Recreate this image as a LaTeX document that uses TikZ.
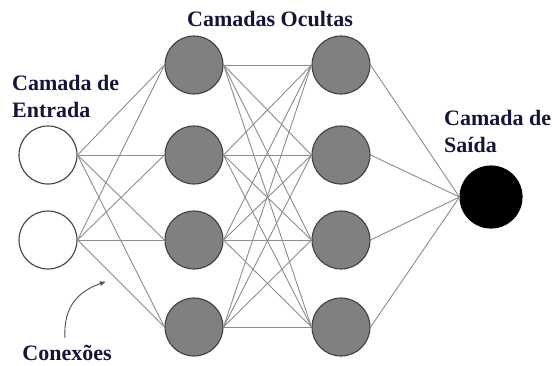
\documentclass[tikz,border=0pt]{standalone}
\usepackage{fontspec}
\setmainfont{Liberation Serif}
\usepackage{tikz}
\usetikzlibrary{arrows,positioning}
\definecolor{azulescuro}{RGB}{20,22,55}
\tikzset{
    %Define standard arrow tip
    >=stealth',
    %Define style for neurons
    entrada/.style={
           circle,
           draw=black!75, line width=1.1pt,
           minimum size=58pt,
           fill=white},
    oculta/.style={
           circle,
           draw=black!75, line width=1.1pt,
           minimum size=58pt,
           fill=black!50},
    saida/.style={
           circle,
           draw=black, line width=1.1pt,
           minimum size=62pt,
           fill=black},
    % Define connection style
    conexao/.style={
           draw=black!45,
           line width=0.9pt},
    rotulo/.style={
           font=\fontsize{22}{27}\selectfont\bfseries,
           text=azulescuro,
           align=left,
           inner sep=0pt}
}
\begin{document}
\begin{tikzpicture}[x=1pt,y=-1pt]
\useasboundingbox (0,0) rectangle (556,365);

 %nodes
\node[entrada] (e1) at (48,155) {};
\node[entrada] (e2) at (48,240) {};
\foreach \i/\y in {1/65,2/155,3/240,4/327}{
  \node[oculta] (a\i) at (194,\y) {};
  \node[oculta] (b\i) at (341,\y) {};
}
\node[saida] (s) at (491,197) {};

 %connections
\foreach \i in {1,2}
  \foreach \j in {1,...,4}
    \draw[conexao] (e\i.east) -- (a\j.west);
\foreach \i in {1,...,4}
  \foreach \j in {1,...,4}
    \draw[conexao] (a\i.east) -- (b\j.west);
\foreach \i in {1,...,4}
  \draw[conexao] (b\i.east) -- (s.west);

 %labels
\node[rotulo, anchor=base west] (lent) at (12,117) {Camada de\\Entrada};
\node[rotulo, anchor=base] (loc) at (270,26) {Camadas Ocultas};
\node[rotulo, anchor=base west] (lsai) at (444,152) {Camada de\\Saída};
\node[rotulo, anchor=base] (lcon) at (67,360) {Conexões};

\coordinate (ini) at (65,338);
\coordinate (fim) at (105,282);
\draw[->, black!70, line width=0.9pt] (ini) .. controls (63,305) and (80,290) .. (fim);
\end{tikzpicture}
\end{document}
